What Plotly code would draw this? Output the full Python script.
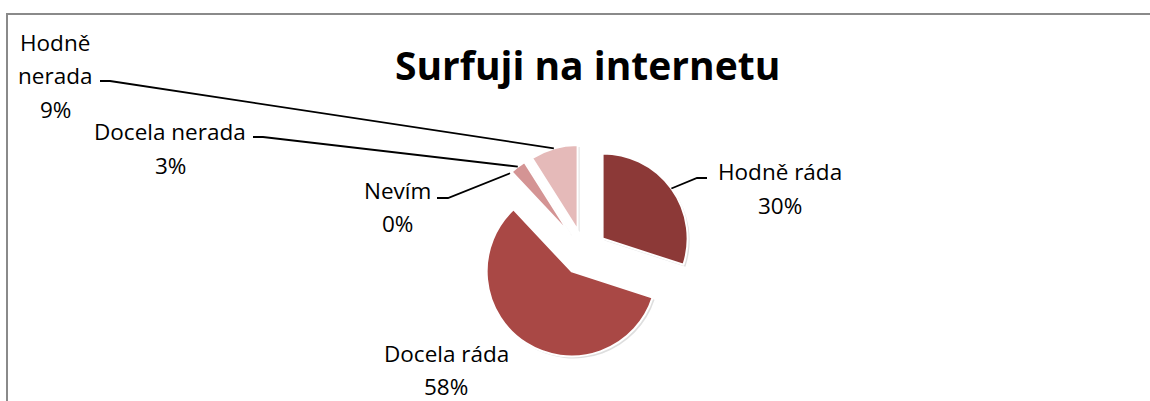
import math
import plotly.graph_objects as go

# ---- data ----
categories = ["Hodně ráda", "Docela ráda", "Nevím", "Docela nerada", "Hodně nerada"]
values = [30, 58, 0, 3, 9]
colors = ["#8C3937", "#A94845", "#C07070", "#D49494", "#E5BAB9"]
title_text = "Surfuji na internetu"
label_lines = [["Hodně ráda"], ["Docela ráda"], ["Nevím"], ["Docela nerada"], ["Hodně", "nerada"]]

W, H = 1150, 401
PULL = 0.27
FONT = "Open Sans"
LINE_GAP = 33

# pie domain in pixels
cx, cy, half = 584, 252, 108


def dom(ox=0, oy=0):
    return dict(x=[(cx + ox - half) / W, (cx + ox + half) / W],
                y=[1 - (cy + oy + half) / H, 1 - (cy + oy - half) / H])


common = dict(labels=categories, values=values, sort=False, direction="clockwise",
              rotation=0, pull=[PULL] * len(values), textinfo="none", showlegend=False)

fig = go.Figure()
# soft shadow
fig.add_trace(go.Pie(**common, marker=dict(colors=["rgba(0,0,0,0.13)"] * len(values),
                                            line=dict(width=0)),
                     domain=dom(2, 2), hoverinfo="skip"))
fig.add_trace(go.Pie(**common, marker=dict(colors=colors, line=dict(color="white", width=2)),
                     domain=dom(), hoverinfo="label+percent"))

# label placement (layout): center x, first-line y, line-start px, stub length
label_layout = [
    dict(x=780, y=172, lx=707, ly=178, stub=-10),
    dict(x=446, y=353, lx=None, ly=None, stub=0),
    dict(x=397, y=190, lx=437, ly=198, stub=11),
    dict(x=170, y=132, lx=253, ly=137, stub=10),
    dict(x=55, y=43, lx=100, ly=81, stub=10),
]

total = sum(values)
r_out = half  # slice edge distance from center incl. pull
cum = 0
annotations = []
shapes = []
for cat, v, lines, lay in zip(categories, values, label_lines, label_layout):
    frac_mid = (cum + v / 2) / total
    cum += v
    pct = round(100 * v / total)
    for i, t in enumerate(lines + [f"{pct}%"]):
        annotations.append(dict(
            x=lay["x"] / W, y=1 - (lay["y"] + i * LINE_GAP) / H, xref="paper", yref="paper",
            text=t, showarrow=False, align="center",
            font=dict(family=FONT, size=22.5, color="#000"), xanchor="center", yanchor="middle",
        ))
    if lay["lx"] is not None:
        ang = 2 * math.pi * frac_mid
        ex = cx + r_out * math.sin(ang)
        ey = cy - r_out * math.cos(ang)
        sx, sy = lay["lx"], lay["ly"]
        mx = sx + lay["stub"]
        pts = [(sx, sy), (mx, sy), (ex, ey)]
        path = "M " + " L ".join(f"{px / W},{1 - py / H}" for px, py in pts)
        shapes.append(dict(type="path", path=path, xref="paper", yref="paper",
                           line=dict(color="black", width=1.8)))

# chart frame (left and top edges visible)
shapes.append(dict(type="line", xref="paper", yref="paper",
                   x0=7 / W, x1=7 / W, y0=0, y1=1 - 14 / H,
                   line=dict(color="#8A8A8A", width=2)))
shapes.append(dict(type="line", xref="paper", yref="paper",
                   x0=6 / W, x1=1, y0=1 - 14 / H, y1=1 - 14 / H,
                   line=dict(color="#8A8A8A", width=2)))

annotations.append(dict(
    x=587 / W, y=1 - 64 / H, xref="paper", yref="paper", text=f"<b>{title_text}</b>",
    showarrow=False, font=dict(family=FONT, size=39, color="#000"),
    xanchor="center", yanchor="middle",
))

fig.update_layout(
    width=W, height=H, margin=dict(l=0, r=0, t=0, b=0),
    paper_bgcolor="white", plot_bgcolor="white",
    annotations=annotations, shapes=shapes,
)

fig.write_html(
    "out.html", config={"displayModeBar": False},
    post_script=("document.documentElement.style.overflow='hidden';"
                 "document.body.style.overflow='hidden';"
                 "document.body.style.margin='0';document.body.style.padding='0';"),
)
